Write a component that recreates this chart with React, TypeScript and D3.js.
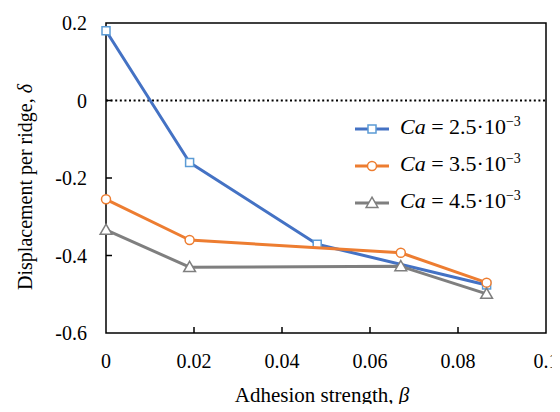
import * as d3 from 'd3';

const xTicks = [0, 0.02, 0.04, 0.06, 0.08, 0.1];
const yTicks = [0.2, 0, -0.2, -0.4, -0.6];

const seriesNames = ['2.5', '3.5', '4.5'];
const seriesColors = ['#4472C4', '#ED7D31', '#7F7F7F'];
const markerColors = ['#5B9BD5', '#ED7D31', '#7F7F7F'];
const markerShapes = ['square', 'circle', 'triangle'];

const betaA = [0, 0.019, 0.048, 0.0865];
const deltaA = [0.18, -0.16, -0.371, -0.476];
const betaB = [0, 0.019, 0.067, 0.0865];
const deltaB = [-0.255, -0.36, -0.393, -0.47];
const betaC = [0, 0.019, 0.067, 0.0865];
const deltaC = [-0.334, -0.43, -0.428, -0.499];

const seriesX = [betaA, betaB, betaC];
const seriesY = [deltaA, deltaB, deltaC];

const width = 560;
const height = 412;
const margin = { top: 23, right: 14, bottom: 79, left: 106 };
const FONT = 'Liberation Serif';

const x = d3.scaleLinear().domain([0, 0.1]).range([margin.left, width - margin.right]);
const y = d3.scaleLinear().domain([-0.6, 0.2]).range([height - margin.bottom, margin.top]);
const line = d3.line<[number, number]>().x(d => x(d[0])).y(d => y(d[1]));
const triangle = d3.symbol(d3.symbolTriangle, 60)() as string;

const Marker = ({ shape, cx, cy, color }: { shape: string; cx: number; cy: number; color: string }) => {
  if (shape === 'square')
    return <rect x={cx - 4} y={cy - 4} width={8} height={8} fill="#fff" stroke={color} strokeWidth={1.5} />;
  if (shape === 'circle')
    return <circle cx={cx} cy={cy} r={4.5} fill="#fff" stroke={color} strokeWidth={1.5} />;
  return <path d={triangle} transform={`translate(${cx},${cy + 1})`} fill="#fff" stroke={color} strokeWidth={1.5} />;
};

export default function App() {
  const bottom = y(-0.6);
  const top = y(0.2);
  return (
    <div style={{ margin: -8 }}>
      <svg width={width} height={height} style={{ display: 'block', background: '#fff' }}>
        {/* frame */}
        <rect x={x(0)} y={top} width={x(0.1) - x(0)} height={bottom - top} fill="none" stroke="#000" strokeWidth={1.5} />

        {/* x ticks */}
        {xTicks.map(t => (
          <g key={'x' + t}>
            {t > 0 && t < 0.1 && <line x1={x(t)} x2={x(t)} y1={bottom} y2={bottom - 6} stroke="#000" strokeWidth={1.5} />}
            <text x={x(t)} y={bottom + 35} textAnchor="middle" fontSize={20} style={{ fontFamily: FONT }}>
              {String(t)}
            </text>
          </g>
        ))}

        {/* y ticks */}
        {yTicks.map(t => (
          <g key={'y' + t}>
            {t < 0.2 && t > -0.6 && <line x1={x(0)} x2={x(0) + 6} y1={y(t)} y2={y(t)} stroke="#000" strokeWidth={1.5} />}
            <text x={x(0) - 19} y={y(t) + 7} textAnchor="end" fontSize={20} style={{ fontFamily: FONT }}>
              {String(t)}
            </text>
          </g>
        ))}

        {/* zero line */}
        <line x1={x(0)} x2={x(0.1)} y1={y(0)} y2={y(0)} stroke="#000" strokeWidth={2.2} strokeDasharray="2,2.6" />

        {/* series */}
        {seriesX.map((xs, i) => {
          const pts = xs.map((v, j) => [v, seriesY[i][j]] as [number, number]);
          return (
            <g key={'s' + i}>
              <path d={line(pts) || ''} fill="none" stroke={seriesColors[i]} strokeWidth={3} strokeLinejoin="round" />
              {pts.map((p, j) => (
                <Marker key={j} shape={markerShapes[i]} cx={x(p[0])} cy={y(p[1])} color={markerColors[i]} />
              ))}
            </g>
          );
        })}

        {/* legend */}
        {seriesNames.map((name, i) => {
          const ly = 129 + i * 37;
          return (
            <g key={'l' + i}>
              <line x1={355} x2={389} y1={ly} y2={ly} stroke={seriesColors[i]} strokeWidth={3} />
              <Marker shape={markerShapes[i]} cx={372} cy={ly} color={markerColors[i]} />
              <text x={400} y={ly + 5} fontSize={22} style={{ fontFamily: FONT }}>
                <tspan fontStyle="italic">Ca</tspan>
                <tspan>{` = ${name}·10`}</tspan>
                <tspan fontSize={14} dy={-8}>−3</tspan>
              </text>
            </g>
          );
        })}

        {/* axis titles */}
        <text x={322} y={402} textAnchor="middle" fontSize={21} style={{ fontFamily: FONT }}>
          Adhesion strength, <tspan fontStyle="italic">β</tspan>
        </text>
        <text
          transform={`translate(32,187) rotate(-90)`}
          textAnchor="middle"
          fontSize={20}
          style={{ fontFamily: FONT }}
        >
          Displacement per ridge, <tspan fontStyle="italic">δ</tspan>
        </text>
      </svg>
    </div>
  );
}
